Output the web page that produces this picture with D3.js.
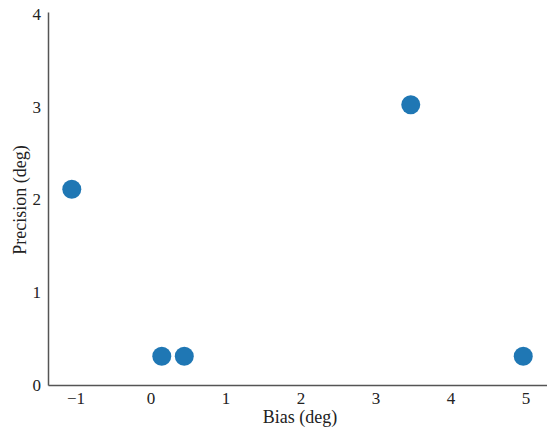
<!DOCTYPE html>
<html>
<head>
<meta charset="utf-8">
<script src="https://cdn.jsdelivr.net/npm/d3@7"></script>
<style>
body { margin: 0; background: #fff; }
text { font-family: "Liberation Serif", "Times New Roman", serif; }
</style>
</head>
<body>
<div id="chart"></div>
<script>
var bias = [-1.05, 0.15, 0.45, 3.47, 4.97];
var precision = [2.11, 0.31, 0.31, 3.02, 0.31];
var xTicks = [-1, 0, 1, 2, 3, 4, 5];
var yTicks = [0, 1, 2, 3, 4];

var width = 547, height = 431;
var svg = d3.select("#chart").append("svg")
    .attr("width", width)
    .attr("height", height);

var x = d3.scaleLinear().domain([-1.367, 5.3]).range([48, 548]);
var y = d3.scaleLinear().domain([0, 4.02]).range([385, 12]);

// bottom axis
var gx = svg.append("g")
    .attr("transform", "translate(0,385)")
    .call(d3.axisBottom(x).tickValues(xTicks).tickSize(0).tickPadding(7)
        .tickFormat(function(d) { return d < 0 ? "\u2212" + Math.abs(d) : d; }));
gx.select(".domain").attr("stroke", "#555").attr("stroke-width", 1.5);
gx.selectAll("text").attr("font-size", 17).attr("fill", "#222")
    .attr("font-family", "Liberation Serif");

// left axis
var gy = svg.append("g")
    .attr("transform", "translate(48,0)")
    .call(d3.axisLeft(y).tickValues(yTicks).tickSize(0).tickPadding(7)
        .tickFormat(d3.format("d")));
gy.select(".domain").attr("stroke", "#555").attr("stroke-width", 1.5);
gy.selectAll("text").attr("font-size", 17).attr("fill", "#222")
    .attr("font-family", "Liberation Serif");

svg.append("text")
    .attr("x", 300).attr("y", 423)
    .attr("text-anchor", "middle")
    .attr("font-size", 18)
    .attr("fill", "#222")
    .text("Bias (deg)");

svg.append("text")
    .attr("transform", "translate(26,200) rotate(-90)")
    .attr("text-anchor", "middle")
    .attr("font-size", 18)
    .attr("fill", "#222")
    .text("Precision (deg)");

svg.append("g")
    .selectAll("circle")
    .data(bias)
    .enter()
    .append("circle")
        .attr("cx", function(d) { return x(d); })
        .attr("cy", function(d, i) { return y(precision[i]); })
        .attr("r", 9.5)
        .style("fill", "#1f77b4");
</script>
</body>
</html>
